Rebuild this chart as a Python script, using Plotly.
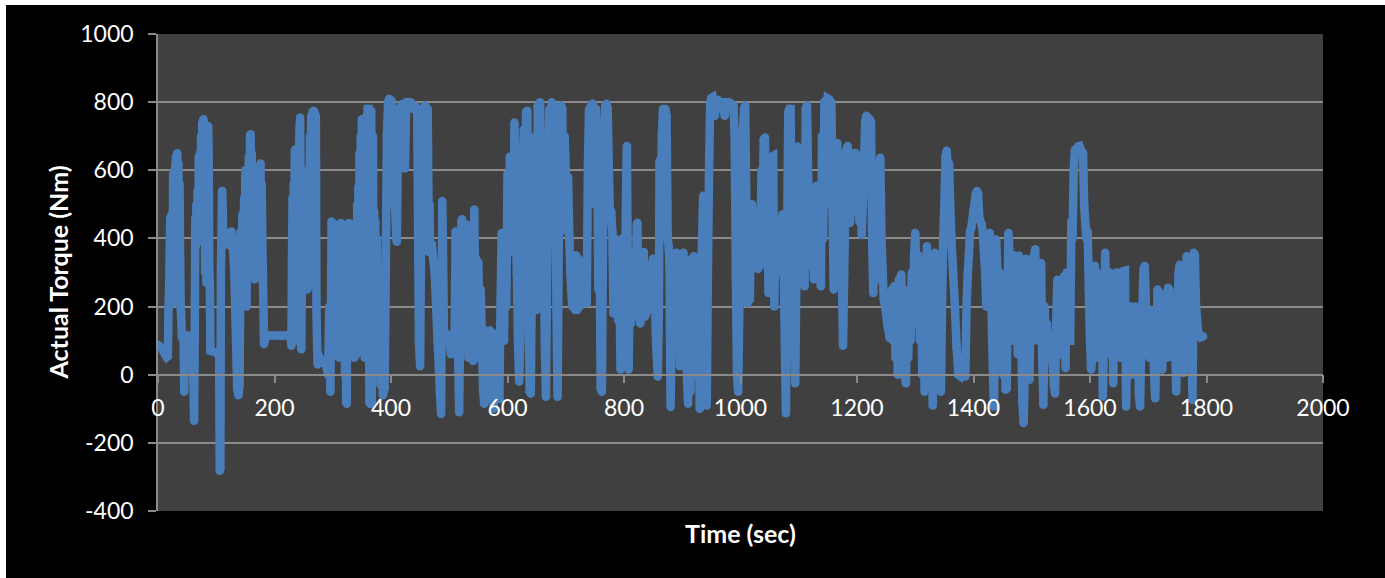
import plotly.graph_objects as go

# ---- data (time in s, actual torque in Nm) ----
time_sec = [
    0, 3, 6, 9, 12, 15, 17, 18, 19, 21,
    22, 23, 25, 26, 28, 29, 31, 32, 33, 34,
    35, 36, 37, 38, 39, 41, 43, 44, 45, 46,
    47, 50, 55, 58, 60, 62, 63, 64, 65, 66,
    67, 68, 69, 70, 71, 72, 73, 74, 75, 76,
    77, 78, 79, 80, 81, 82, 83, 84, 85, 86,
    87, 88, 89, 90, 100, 105, 106, 107, 108, 110,
    111, 112, 114, 117, 120, 123, 126, 128, 131, 134,
    136, 138, 140, 141,
    142, 143, 145, 146, 148, 149, 150, 151, 152, 153,
    154, 155, 156, 157, 158, 159, 160, 161, 162, 163,
    164, 165, 166, 167, 168, 169, 170, 172, 174, 176,
    177, 178, 179, 180, 181, 182, 183, 184, 190, 200,
    210, 220, 228,
    229, 230, 231, 232, 233, 234, 235, 236, 237, 238,
    239, 240, 241, 242, 243, 244, 245, 246, 247, 248,
    249, 250, 252, 254, 256, 258, 260, 261, 262, 263,
    264, 265, 266, 267, 268, 269, 270, 271, 272, 273,
    274, 275,
    280, 288, 292, 294, 296, 298, 300, 302,
    304, 305, 306, 307, 308, 309, 310, 311, 312, 313,
    314, 315, 316, 317, 318, 319, 320, 321, 322, 323,
    324, 325, 326, 327, 328, 329, 330, 331, 332, 333,
    334, 335, 336, 337, 338, 339, 340, 341, 342, 343,
    344, 345, 346, 347, 348, 349, 350, 351, 352, 353,
    354, 355, 356, 357, 358, 359, 360, 361, 362, 363,
    364, 365, 366, 367, 368, 369, 370, 371, 372, 373,
    374, 376, 378, 380, 382, 384, 386, 387, 389, 391,
    393, 395, 397, 399, 401, 403, 405, 407, 409, 410,
    412, 413, 415, 418, 420, 422, 424, 426, 428, 430,
    432, 434, 436, 438, 440, 445, 448, 450, 452, 454,
    456, 458, 460, 462, 463, 465, 466, 467,
    470, 475, 480, 484, 486, 487, 488, 489, 491, 493,
    496, 500, 503, 506, 509, 511, 513, 515, 517, 519,
    521, 522, 524, 526, 527, 529, 531, 533, 535, 537,
    539, 541, 543, 544,
    546, 548, 550, 552, 554, 556, 558, 560, 562, 564,
    566, 568, 570, 572, 574, 576, 578, 580, 582, 584,
    586, 588, 590, 592, 594, 596, 598, 600, 602, 604,
    606, 608, 610, 612, 614,
    616, 618, 620, 622, 624, 626, 628, 630, 632, 634,
    636, 638, 640, 642, 644, 646, 648, 650, 652, 654,
    656, 658, 660, 662, 664, 666, 668, 670, 672, 674,
    676, 678, 680, 682, 684, 686, 688, 690, 692, 694,
    696, 698, 700, 702, 704, 706, 708, 711, 714, 716,
    718, 720, 722, 724, 728, 733, 736, 738, 740, 742,
    744, 746, 748, 750, 752, 754, 756, 758, 760, 762,
    764, 766, 768, 770, 772, 774, 776, 778, 780, 782,
    784, 786, 788, 790, 792, 794, 796, 797, 798, 799,
    800, 802, 804, 805, 806, 808, 810, 812, 814, 816,
    818, 820, 822, 823, 824, 826, 828, 830, 832, 834,
    836, 838, 842, 846, 850,
    852, 855, 858, 860, 861, 863, 865, 867, 869, 871,
    873, 875, 877, 878, 880, 882, 884, 886, 888, 890,
    892, 894, 896, 898, 900, 902, 904, 906, 908, 910,
    912, 914, 916, 918, 920, 922, 924, 926, 928, 930,
    932, 934, 936, 938, 940, 942, 944, 946, 948,
    950, 952, 954, 956, 958, 962, 966, 970, 973, 976,
    980, 984, 988, 990, 992, 994, 996, 998, 1000, 1002,
    1004, 1006, 1008, 1010, 1012, 1014, 1016, 1018, 1020, 1022,
    1024, 1026, 1028, 1030, 1032, 1034, 1036, 1038, 1040, 1042,
    1044, 1046, 1048, 1050, 1052, 1054, 1056, 1058, 1060, 1062,
    1064, 1066, 1068, 1070, 1072, 1074, 1076, 1078, 1080, 1082,
    1084,
    1086, 1088, 1090, 1092, 1094, 1096, 1098, 1100, 1102, 1104,
    1106, 1108, 1110, 1112, 1114, 1116, 1118, 1120, 1122, 1124,
    1126, 1128, 1130, 1132, 1134, 1136, 1138, 1140, 1142, 1144,
    1146, 1148, 1150, 1152, 1154, 1156, 1158, 1160, 1162, 1164,
    1166, 1168, 1170, 1172, 1174, 1176, 1178, 1180, 1182, 1184,
    1186, 1188, 1190, 1192, 1194, 1196, 1198, 1200, 1202, 1204,
    1206, 1208, 1210, 1212, 1214, 1216, 1218, 1220, 1222, 1224,
    1226, 1228, 1230, 1232, 1234, 1236, 1238, 1240, 1242, 1244,
    1246, 1248,
    1252, 1256, 1258, 1260, 1262, 1264, 1266, 1268, 1270, 1272,
    1274, 1276, 1278, 1280, 1282, 1284, 1286, 1288, 1290, 1292,
    1294, 1296, 1298, 1300, 1302, 1304, 1306, 1308, 1310, 1312,
    1314, 1316, 1318, 1320, 1322, 1324, 1326, 1328, 1330, 1332,
    1334, 1336, 1338, 1340, 1342, 1344, 1346, 1348, 1350, 1352,
    1354, 1356, 1358, 1360, 1362, 1365, 1368, 1371, 1374, 1378,
    1382, 1386, 1388, 1390, 1392, 1394, 1396, 1400, 1404, 1406,
    1408, 1410, 1414, 1416, 1420, 1422, 1424, 1426, 1428, 1430,
    1432, 1435,
    1437, 1439, 1441, 1443, 1445, 1447, 1449, 1451, 1453, 1455,
    1457, 1459, 1460, 1462, 1464, 1466, 1468, 1470, 1472, 1474,
    1476, 1478, 1480, 1482, 1484, 1486, 1488, 1490, 1492, 1494,
    1496, 1498, 1500, 1502, 1504, 1506, 1508, 1510, 1512, 1514,
    1516, 1518, 1520, 1522, 1524, 1526, 1530, 1534, 1538, 1540,
    1542, 1544, 1546, 1548, 1550, 1552, 1554, 1556, 1558, 1560,
    1562, 1564, 1566, 1568, 1570, 1572, 1574, 1576, 1578, 1580,
    1582, 1584, 1586, 1588, 1590, 1592, 1594, 1596, 1598, 1600,
    1602, 1604,
    1606, 1608, 1610, 1612, 1614, 1616, 1618, 1620, 1622, 1624,
    1626, 1628, 1630, 1632, 1634, 1636, 1638, 1640, 1642, 1644,
    1646, 1648, 1650, 1652, 1654, 1656, 1658, 1660, 1662, 1664,
    1666, 1668, 1670, 1672, 1674, 1676, 1678, 1680, 1682, 1684,
    1686, 1688, 1690, 1692, 1694, 1696, 1698, 1700, 1702, 1704,
    1706, 1708, 1710, 1712, 1714, 1716, 1718, 1720, 1722, 1724,
    1726, 1728, 1730, 1732, 1734, 1736, 1738, 1740, 1742, 1744,
    1746, 1748, 1750, 1752, 1754, 1756, 1758, 1760, 1762, 1764,
    1766, 1768, 1770, 1772, 1774, 1776, 1778, 1780, 1782, 1786,
    1790, 1794,
]

torque_nm = [
    88, 82, 80, 70, 60, 52, 55, 200, 240, 460,
    300, 470, 210, 590, 220, 600, 640, 500, 650, 400,
    620, 350, 560, 330, 200, 115, 115, 100, -50, 90,
    115, 115, 112, 110, 50, -135, 100, 460, 380, 500,
    420, 540, 390, 640, 450, 650, 470, 700, 500, 740,
    600, 750, 560, 720, 300, 600, 270, 480, 720, 730,
    640, 300, 270, 70, 65, 60, -282, -275, 300, 540,
    500, 380, 420, 400, 410, 380, 420, 400, 300, 100,
    -40, -60, -30, 200,
    420, 330, 470, 360, 520, 400, 600, 250, 200, 480,
    560, 430, 640, 500, 700, 706, 540, 650, 450, 600,
    380, 300, 280, 500, 340, 580, 420, 600, 480, 620,
    340, 560, 400, 300, 200, 90, 100, 115, 115, 115,
    115, 115, 115,
    85, 330, 520, 400, 560, 450, 660, 400, 620, 350,
    500, 100, 380, 640, 720, 755, 400, 75, 300, 600,
    500, 350, 480, 300, 250, 260, 500, 700, 500, 760,
    400, 770, 300, 775, 560, 770, 400, 760, 200, 100,
    30, 60,
    40, 30, 0, 200, -50, 450, 300, 100,
    440, 80, 420, 60, 440, 100, 430, 50, 400, 150,
    445, 70, 420, 200, 440, 60, 430, 0, 350, -80,
    -85, 300, 440, 100, 445, 60, 430, 70, 440, 100,
    420, 60, 440, 50, 430, 200, 445, 60, 500, 100,
    550, 300, 650, 100, 700, 200, 750, 300, 720, 100,
    600, 50, 700, 150, 760, 400, 780, 780, 200, -80,
    -85, 600, 775, -85, 500, 700, 100, 480, 200, 450,
    50, 400, 0, 300, -30, 150, -60, -50, -40, 300,
    700, 800, 810, 500, 805, 600, 780, 500, 400, 390,
    700, 780, 760, 790, 795, 700, 605, 790, 800, 800,
    795, 800, 790, 780, 790, 780, 100, 25, 500, 700,
    780, 790, 785, 550, 780, 360, 500, 380,
    380, 300, 100, -50, -115, 200, 510, 400, 100, 100,
    120, 110, 60, 110, 80, 420, 300, 100, -110, 200,
    450, 456, 380, 100, 420, 100, 440, 50, 410, 150,
    430, 40, 485, 300,
    340, 100, 330, 50, 250, 100, -40, -85, 130, -50,
    100, -20, 130, 50, -60, -100, 120, 0, 100, -70,
    -70, 200, 416, 300, 100, 400, 200, 590, 380, 640,
    400, 620, 360, 740, 500,
    300, 100, -20, 100, 400, 600, 720, 500, 770, 775,
    300, -50, -55, 350, 600, 300, 700, 190, 790, 500,
    800, 450, 700, 400, 100, -65, 300, 600, 780, 560,
    800, 790, 500, 700, 200, -65, 400, 700, 790, 780,
    500, 700, 600, 420, 580, 410, 300, 200, 350, 190,
    350, 190, 340, 200, 250, 220, 210, 600, 780, 600,
    790, 795, 780, 500, 780, 650, 250, 400, -40, -50,
    400, 700, 790, 795, 780, 600, 450, 480, 420, 180,
    400, 200, 350, 160, 300, 15, 100, 400, 350, 50,
    80, 300, 600, 671, 400, 15, 300, 150, 350, 170,
    360, 200, 440, 446, 250, 360, 150, 340, 180, 360,
    170, 180, 200, 300, 340,
    300, 100, -5, 200, 627, 500, 700, 780, 770, 780,
    760, 400, 370, 330, -95, 200, 330, 100, 300, 358,
    100, 340, 25, 300, 200, 358, 100, 320, 0, -85,
    300, -50, 340, 100, 348, 50, 300, 0, 250, -100,
    200, 400, 525, 200, -70, -90, 300, 600, 800,
    812, 814, 790, 760, 800, 805, 800, 790, 760, 800,
    800, 795, 790, 700, 300, 0, -50, 200, 500, 300,
    700, 780, 790, 500, 210, 500, 220, 450, 500, 380,
    470, 330, 450, 310, 420, 320, 600, 500, 690, 696,
    400, 600, 240, 500, 300, 640, 642, 200, 450, 300,
    450, 350, 450, 300, 470, 350, 100, -113, 400, 770,
    780,
    780, 300, 600, 200, -25, 300, 670, 500, 300, 480,
    280, 600, 260, 780, 790, 600, 400, 500, 320, 540,
    280, 500, 554, 380, 500, 300, 260, 700, 400, 800,
    805, 500, 810, 808, 600, 800, 500, 250, 400, 600,
    680, 500, 650, 400, 300, 85, 300, 500, 660, 671,
    600, 446, 640, 500, 650, 480, 650, 500, 580, 450,
    560, 410, 500, 620, 740, 760, 755, 600, 750, 740,
    400, 240, 500, 300, 620, 280, 600, 637, 400, 300,
    220, 206,
    150, 108, 120, 250, 100, 260, 50, 250, 0, 280,
    30, 294, 80, 250, 0, -25, 200, 50, 250, 100,
    300, 150, 350, 416, 300, 170, 350, 100, 330, 0,
    340, -50, 200, 377, 100, 340, -20, 320, -90, 200,
    358, 100, 340, 0, 300, -50, 200, 400, 500, 640,
    657, 600, 620, 500, 400, 300, 200, 80, 0, -5,
    10, -5, 200, 290, 350, 420, 430, 480, 530, 539,
    530, 460, 440, 420, 300, 200, 250, 400, 416, 300,
    100, -93,
    100, 397, 300, 200, 300, 100, 290, 0, 280, -44,
    -40, 300, 416, 350, 150, 350, 100, 350, 150, 340,
    60, 350, 200, 100, -80, -142, 0, 340, 100, 330,
    -15, 200, 340, 100, 350, 368, 200, 330, 100, 320,
    328, 50, -88, 200, 100, 150, 50, 100, -30, -55,
    150, 279, 100, 270, 60, 280, 100, 290, 20, 300,
    150, 100, 100, 450, 400, 600, 660, 650, 665, 670,
    671, 660, 655, 650, 500, 440, 400, 420, 250, 100,
    15, 50,
    300, 320, 100, 300, 50, 290, 100, 280, -64, 100,
    358, 200, 290, 100, 300, 60, 290, -25, 280, 80,
    300, 100, 290, 50, 300, 100, 304, 305, -93, 100,
    200, 50, 200, 0, 190, 80, 200, 50, 150, -60,
    -93, 100, 200, 310, 319, 200, 150, 190, 50, 190,
    100, 180, 0, -69, 100, 250, 240, 100, 200, 15,
    230, 100, 240, 50, 255, 250, 100, 230, 50, 200,
    100, -49, 150, 300, 323, 100, 300, 5, 320, 100,
    348, 340, 80, 340, 100, -74, 358, 350, 200, 120,
    110, 113,
]

x_ticks = [0, 200, 400, 600, 800, 1000, 1200, 1400, 1600, 1800, 2000]
y_ticks = [-400, -200, 0, 200, 400, 600, 800, 1000]

n = min(len(time_sec), len(torque_nm))

W, H = 1385, 578
L, R, T, B = 158, 62, 34, 67
PW, PH = W - L - R, H - T - B


def px_to_paper_x(px):
    return (px - L) / PW


def px_to_paper_y(py):
    return (H - B - py) / PH


line_blue = "#4A7EBB"

fig = go.Figure()
fig.add_trace(go.Scatter(
    x=time_sec[:n], y=torque_nm[:n], mode="lines+markers",
    line=dict(color=line_blue, width=8.5, simplify=False),
    marker=dict(color=line_blue, size=8.5, line=dict(width=0)),
    hoverinfo="skip", showlegend=False,
))

grid = "#8A8A8A"
font_family = "Lato, 'Open Sans', sans-serif"

fig.update_layout(
    width=W, height=H,
    margin=dict(l=L, r=R, t=T, b=B, pad=0),
    paper_bgcolor="#000000",
    plot_bgcolor="#404040",
    showlegend=False,
    font=dict(family=font_family, color="white", size=23),
    xaxis=dict(
        range=[0, 2000], tickvals=x_ticks, ticktext=[str(v) for v in x_ticks],
        showgrid=False, zeroline=False,
        showline=True, linecolor=grid, linewidth=1.5,
        anchor="free", position=400 / 1400,
        ticks="outside", ticklen=8, tickcolor=grid, tickwidth=1.5,
        tickfont=dict(family=font_family, color="white", size=23),
        ticklabelstandoff=5,
    ),
    yaxis=dict(
        range=[-400, 1000], tickvals=y_ticks, ticktext=[str(v) for v in y_ticks],
        showgrid=True, gridcolor=grid, gridwidth=1.5,
        zeroline=False,
        showline=True, linecolor=grid, linewidth=1.5,
        ticks="outside", ticklen=8, tickcolor=grid, tickwidth=1.5,
        tickfont=dict(family=font_family, color="white", size=23),
        ticklabelstandoff=10,
    ),
    annotations=[
        dict(text="<b>Actual Torque (Nm)</b>", xref="paper", yref="paper",
             x=px_to_paper_x(57), y=0.5, textangle=-90, showarrow=False,
             xanchor="center", yanchor="middle",
             font=dict(family=font_family, color="white", size=25)),
        dict(text="<b>Time (sec)</b>", xref="paper", yref="paper",
             x=0.5, y=px_to_paper_y(533), showarrow=False,
             xanchor="center", yanchor="middle",
             font=dict(family=font_family, color="white", size=25)),
    ],
    shapes=[
        dict(type="rect", xref="paper", yref="paper", layer="below",
             x0=px_to_paper_x(0), x1=px_to_paper_x(6),
             y0=px_to_paper_y(H), y1=px_to_paper_y(0),
             fillcolor="white", line=dict(width=0)),
        dict(type="rect", xref="paper", yref="paper", layer="below",
             x0=px_to_paper_x(0), x1=px_to_paper_x(W),
             y0=px_to_paper_y(5), y1=px_to_paper_y(0),
             fillcolor="white", line=dict(width=0)),
    ],
)

fig.write_html("out.html")
